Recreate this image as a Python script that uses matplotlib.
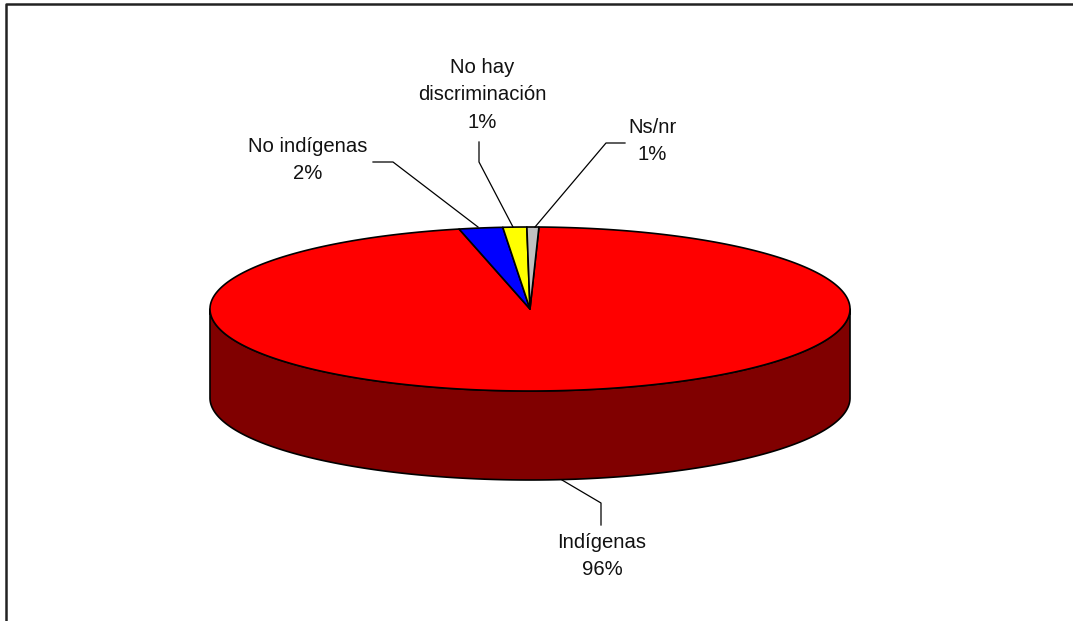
import numpy as np
import matplotlib
matplotlib.use("Agg")
import matplotlib.pyplot as plt
from matplotlib.patches import Polygon

# ---- data ----
categories = ["Indígenas", "No indígenas", "No hay\ndiscriminación", "Ns/nr"]
values = [96.0, 2.2, 1.2, 0.6]
top_colors = ["#FF0000", "#0000FF", "#FFFF00", "#C0C0C0"]
side_colors = ["#800000", "#000080", "#808000", "#606060"]

W, H = 1073, 621
fig = plt.figure(figsize=(W / 100, H / 100), dpi=100)
ax = fig.add_axes([0, 0, 1, 1])
ax.set_xlim(0, W)
ax.set_ylim(H, 0)
ax.axis("off")

plt.rcParams["font.family"] = ["Liberation Sans", "DejaVu Sans"]

# pie geometry (layout)
cx, cy, rx, ry, depth = 530, 309, 320, 82, 89
start = 88.4  # math degrees, slices go clockwise

vals = np.array(values, dtype=float)
fracs = vals / vals.sum()
pcts = [f"{round(f * 100):.0f}%" for f in fracs]


def pts(t0, t1, dy=0.0, n=None):
    if n is None:
        n = max(2, int(abs(t1 - t0) * 2) + 2)
    t = np.radians(np.linspace(t0, t1, n))
    return np.column_stack([cx + rx * np.cos(t), cy - ry * np.sin(t) + dy])


bounds = []
a = start
for f in fracs:
    b = a - f * 360
    bounds.append((a, b))
    a = b

# side walls (front half: math angles in (-180, 0) + k*360)
for (a0, a1), sc in zip(bounds, side_colors):
    hi, lo = a0, a1
    for k in range(-2, 2):
        flo, fhi = -180 + 360 * k, 0 + 360 * k
        s_lo, s_hi = max(lo, flo), min(hi, fhi)
        if s_hi > s_lo:
            top = pts(s_lo, s_hi)
            bot = pts(s_hi, s_lo, dy=depth)
            poly = np.vstack([top, bot])
            ax.add_patch(Polygon(poly, closed=True, facecolor=sc,
                                 edgecolor="black", linewidth=1.2,
                                 joinstyle="round", zorder=2))

# top faces
for (a0, a1), tc in zip(bounds, top_colors):
    arc = pts(a0, a1)
    poly = np.vstack([[cx, cy], arc])
    ax.add_patch(Polygon(poly, closed=True, facecolor=tc,
                         edgecolor="black", linewidth=1.2,
                         joinstyle="round", zorder=3))

# labels and leader lines (layout)
fs = 14.6
lab_pos = [(602, 556), (308, 160), (482, 95), (652, 141)]
leaders = [
    [(562, 480), (601, 503), (601, 525)],
    [(373, 162), (393, 162), (478, 227)],
    [(479, 142), (479, 162), (513, 227)],
    [(625, 143), (606, 143), (535, 227)],
]
for cat, pct, (x, y), ld in zip(categories, pcts, lab_pos, leaders):
    ax.text(x, y, f"{cat}\n{pct}", ha="center", va="center",
            fontsize=fs, linespacing=1.56, color="#111111", zorder=5)
    ld = np.array(ld)
    ax.plot(ld[:, 0], ld[:, 1], color="black", linewidth=0.9, zorder=4)

# frame (left and top border)
ax.plot([6, 6, W], [H, 4, 4], color="#222222", linewidth=1.8,
        solid_capstyle="butt", zorder=6)

fig.savefig("out.png", dpi=100, facecolor="white")
